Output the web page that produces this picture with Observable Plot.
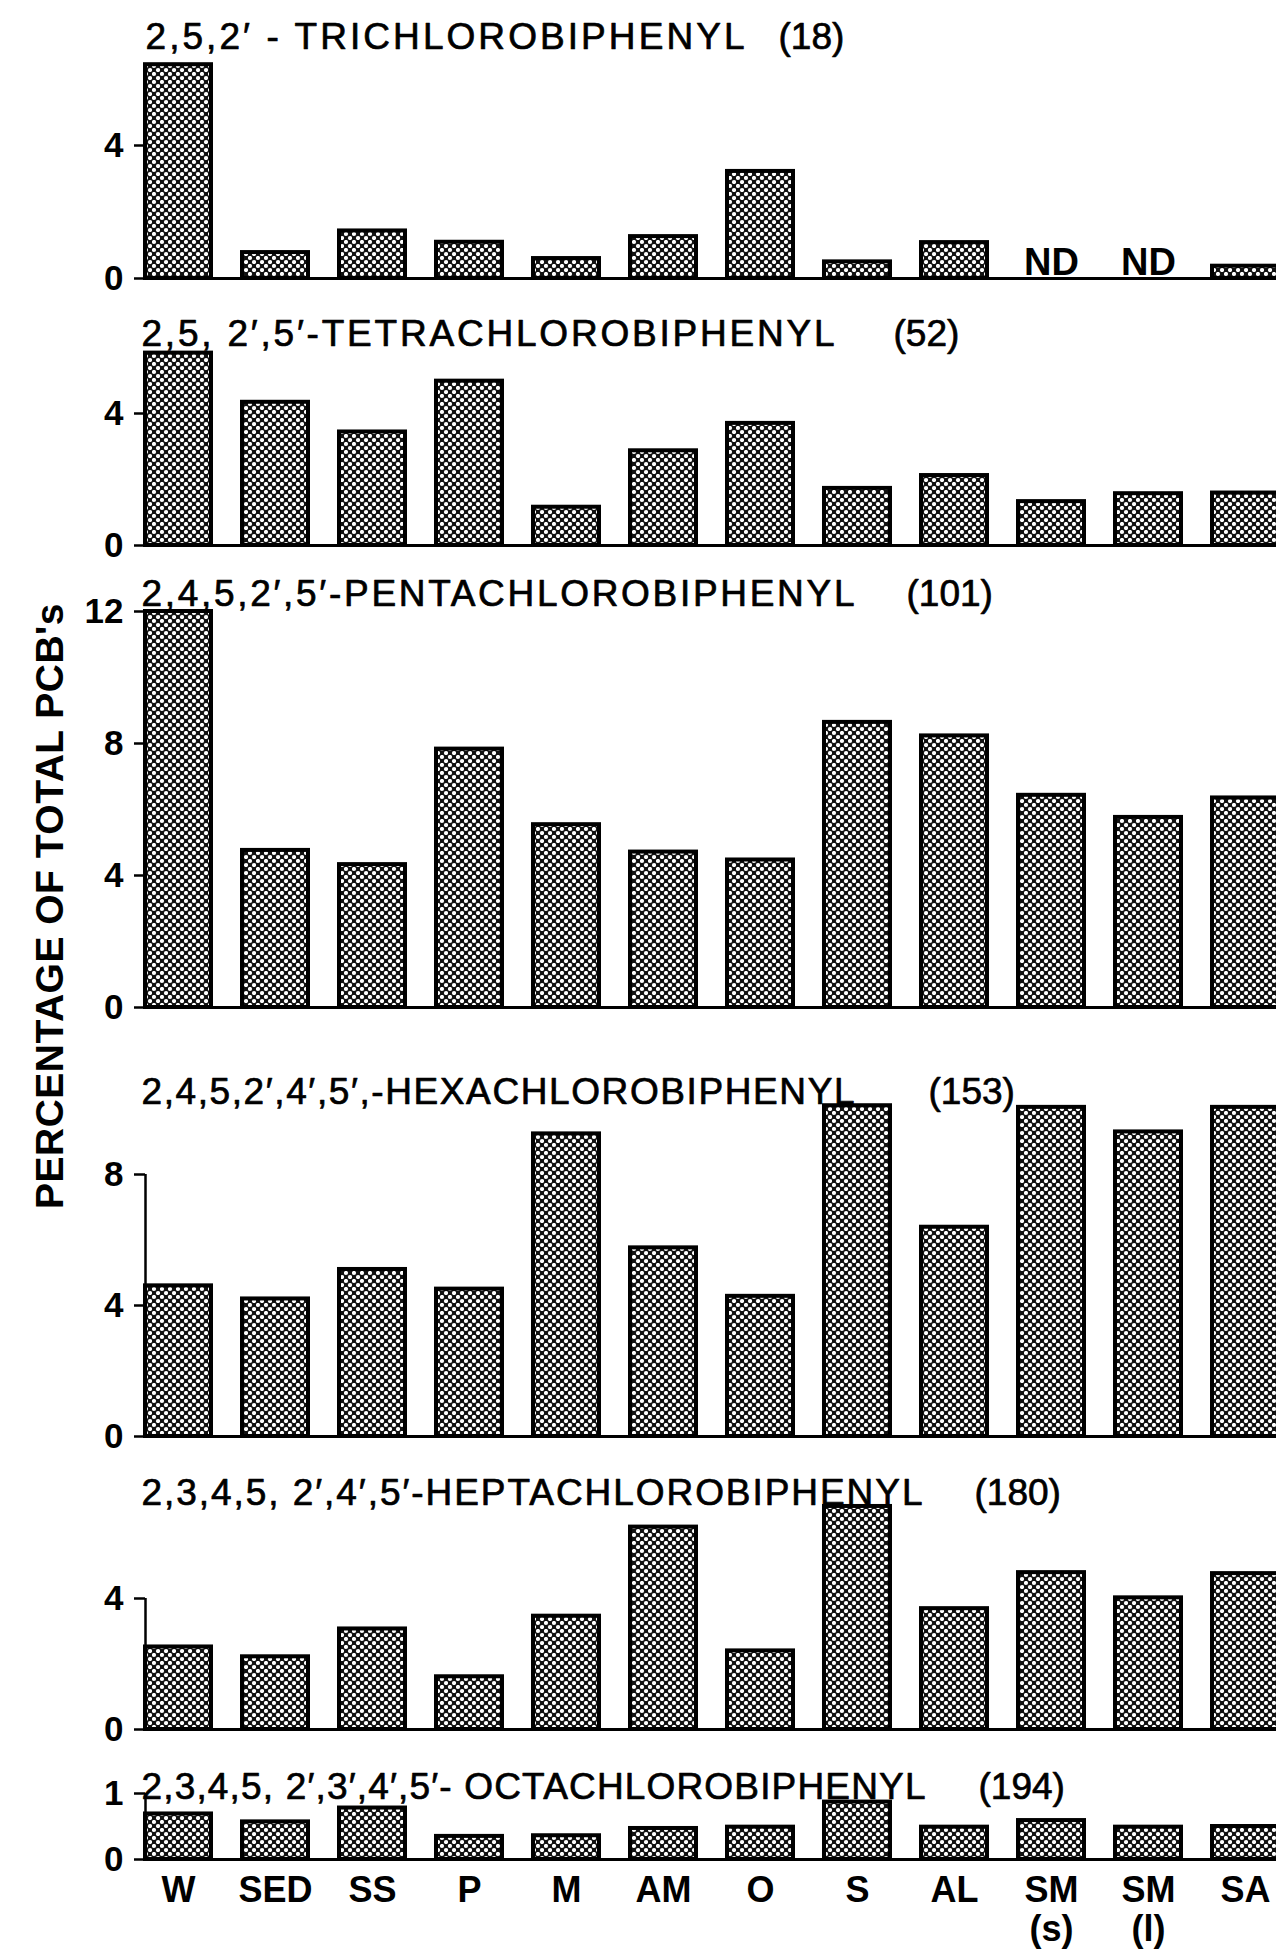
<!DOCTYPE html>
<html>
<head>
<meta charset="utf-8">
<script src="https://cdn.jsdelivr.net/npm/d3@7"></script>
<script src="https://cdn.jsdelivr.net/npm/@observablehq/plot@0.6"></script>
<style>
  html, body { margin: 0; padding: 0; background: white; overflow: hidden; }
  #chart { position: relative; width: 1276px; height: 1954px; background: white; overflow: hidden; }
  #chart svg { display: block; position: relative; }
  #ytitle {
    position: absolute; left: 50px; top: 906px;
    transform: translate(-50%, -50%) rotate(-90deg);
    white-space: nowrap; font-family: "Liberation Sans", Arial, Helvetica, sans-serif;
    font-size: 39px; font-weight: bold; letter-spacing: 0.5px; color: #000;
  }
</style>
</head>
<body>
<svg width="0" height="0" style="position:absolute">
  <defs>
    <pattern id="mesh" patternUnits="userSpaceOnUse" width="8" height="8">
      <rect width="8" height="8" fill="#111"></rect>
      <circle cx="2" cy="2" r="2.1" fill="#fff"></circle>
      <circle cx="6" cy="6" r="2.1" fill="#fff"></circle>
    </pattern>
  </defs>
</svg>
<div id="chart"><div id="ytitle">PERCENTAGE OF TOTAL PCB's</div></div>
<script>
// ---- data ----
const categories = ["W", "SED", "SS", "P", "M", "AM", "O", "S", "AL", "SM (s)", "SM (l)", "SA"];
const tickLabels = ["W", "SED", "SS", "P", "M", "AM", "O", "S", "AL", "SM\n(s)", "SM\n(l)", "SA"];

const tri18    = [6.43, 0.78, 1.43, 1.09, 0.60, 1.26, 3.22, 0.50, 1.08, null, null, 0.37];
const tetra52  = [5.83, 4.34, 3.44, 4.98, 1.16, 2.87, 3.70, 1.73, 2.12, 1.33, 1.57, 1.59];
const penta101 = [12.0, 4.76, 4.33, 7.83, 5.54, 4.71, 4.47, 8.64, 8.23, 6.43, 5.76, 6.35];
const hexa153  = [4.60, 4.20, 5.10, 4.50, 9.24, 5.76, 4.28, 10.1, 6.39, 10.05, 9.30, 10.05];
const hepta180 = [2.52, 2.22, 3.07, 1.61, 3.46, 6.18, 2.40, 6.81, 3.69, 4.79, 4.02, 4.76];
const octa194  = [0.69, 0.57, 0.78, 0.35, 0.36, 0.47, 0.49, 0.87, 0.49, 0.59, 0.49, 0.50];

const names = [
  "2,5,2\u2032 - TRICHLOROBIPHENYL",
  "2,5, 2\u2032,5\u2032-TETRACHLOROBIPHENYL",
  "2,4,5,2\u2032,5\u2032-PENTACHLOROBIPHENYL",
  "2,4,5,2\u2032,4\u2032,5\u2032,-HEXACHLOROBIPHENYL",
  "2,3,4,5, 2\u2032,4\u2032,5\u2032-HEPTACHLOROBIPHENYL",
  "2,3,4,5, 2\u2032,3\u2032,4\u2032,5\u2032- OCTACHLOROBIPHENYL"
];
const codes = ["(18)", "(52)", "(101)", "(153)", "(180)", "(194)"];
const series = [tri18, tetra52, penta101, hexa153, hepta180, octa194];
const yTicks = [[0, 4], [0, 4], [0, 4, 8, 12], [0, 4, 8], [0, 4], [0, 1]];

// ---- layout (styling only) ----
const layout = [
  {h: 290, mt: 145, mb: 12, tb: 48,  nx: 145, nw: 599, cx: 778},
  {h: 265, mt: 123, mb: 10, tb: 55,  nx: 141, nw: 693, cx: 893},
  {h: 460, mt: 56,  mb: 8,  tb: 50,  nx: 141, nw: 713, cx: 906},
  {h: 430, mt: 159, mb: 9,  tb: 88,  nx: 141, nw: 713, cx: 928},
  {h: 295, mt: 153, mb: 11, tb: 59,  nx: 141, nw: 781, cx: 974},
  {h: 214, mt: 53,  mb: 95, tb: 58,  nx: 141, nw: 784, cx: 978}
];
const FONT = "'Liberation Sans', Arial, Helvetica, sans-serif";
const ML = 145;

const chart = document.getElementById("chart");

series.forEach((vals, k) => {
  const L = layout[k];
  const ticks = yTicks[k];
  const top = ticks[ticks.length - 1];
  const data = categories.map((c, i) => ({cat: c, v: vals[i]}));
  const present = data.filter(d => d.v != null);
  const missing = data.filter(d => d.v == null);
  const last = k === series.length - 1;

  const marks = [
    Plot.barY(present, {x: "cat", y: "v", fill: "url(#mesh)", stroke: "black", strokeWidth: 4}),
    Plot.ruleY([0], {stroke: "black", strokeWidth: 3}),
    Plot.ruleX([categories[0]], {x: d => d, y1: 0, y2: top, dx: -33, stroke: "black", strokeWidth: 2.5}),
    Plot.axisY(ticks, {tickSize: 11, tickPadding: 11, fontSize: 35, fontWeight: "bold", stroke: "black", strokeWidth: 2.5, label: null, tickFormat: d => String(d)}),
    Plot.text([names[k]], {text: d => d, frameAnchor: "top-left", textAnchor: "start", lineAnchor: "bottom",
      dx: L.nx - ML, dy: L.tb - L.mt, fontSize: 37, fill: "black", stroke: "black", strokeWidth: 0.7}),
    Plot.text([codes[k]], {text: d => d, frameAnchor: "top-left", textAnchor: "start", lineAnchor: "bottom",
      dx: L.cx - ML, dy: L.tb - L.mt, fontSize: 37, fill: "black", stroke: "black", strokeWidth: 0.7})
  ];
  if (missing.length) {
    marks.push(Plot.text(missing, {x: "cat", y: () => 0, text: () => "ND", lineAnchor: "bottom", dy: -4,
      fontSize: 38, fontWeight: "bold", fill: "black"}));
  }
  if (last) {
    marks.push(Plot.axisX({tickSize: 0, tickPadding: 14, fontSize: 36, fontWeight: "bold", label: null,
      lineHeight: 1.1, tickFormat: d => tickLabels[categories.indexOf(d)]}));
  }

  const svg = Plot.plot({
    width: 1276, height: L.h,
    marginLeft: ML, marginRight: 0, marginTop: L.mt, marginBottom: L.mb,
    style: {fontFamily: FONT, background: "transparent", overflow: "visible", color: "black"},
    x: {type: "band", domain: categories, range: [ML, 1278], paddingInner: 0.32, paddingOuter: 0, axis: last ? undefined : null, label: null},
    y: {domain: [0, top], label: null},
    marks
  });
  d3.select(svg).selectAll("text")
    .filter(function () { return this.textContent === names[k]; })
    .attr("textLength", L.nw).attr("lengthAdjust", "spacing");
  chart.appendChild(svg);
});
</script>
</body>
</html>
